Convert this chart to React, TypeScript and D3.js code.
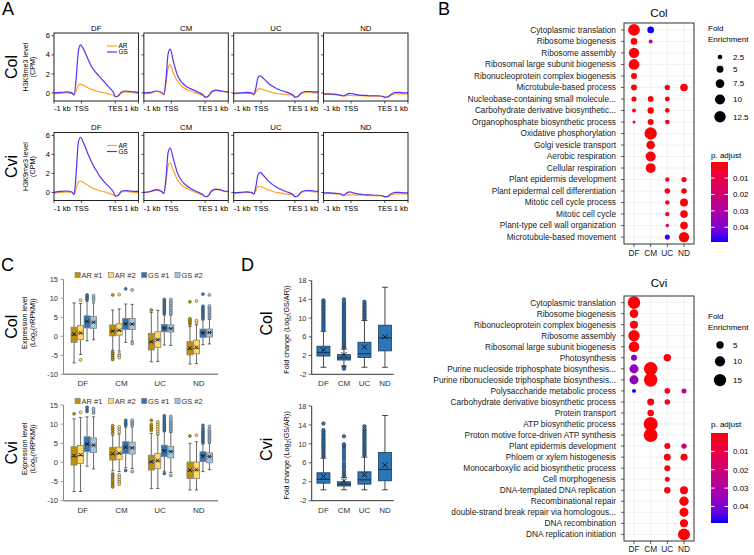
import React from 'react'
import * as d3 from 'd3'

const FONT = '"Liberation Sans", Arial, Helvetica, sans-serif'
const stages = ['DF', 'CM', 'UC', 'ND']

// ---------- A: H3K9me3 metaplots (x in bins: -1 kb = 0 ... +1 kb = 4)
const profileX = [0, 0.3, 0.6, 0.85, 0.95, 1.05, 1.15, 1.25, 1.4, 1.6, 1.8, 2.0, 2.2, 2.4, 2.6, 2.8, 2.92, 3.05, 3.2, 3.4, 3.6, 3.8, 4.0]
const profileTicks = [0, 1.3, 2.9, 4]
const profileTickLabels = ['-1 kb', 'TSS', 'TES', '1 kb']
const profileYTicks = [0, 2, 4, 6]

const colAR = [
  [-0.1, -0.05, 0.0, -0.05, -0.2, 0.2, 0.8, 0.92, 0.8, 0.55, 0.35, 0.2, 0.1, 0.0, -0.1, -0.25, -0.4, -0.3, 0.0, 0.1, 0.05, 0.0, -0.05],
  [-0.1, -0.05, 0.15, 0.0, -0.2, 1.0, 2.6, 2.95, 2.1, 1.2, 0.7, 0.4, 0.2, 0.05, -0.1, -0.3, -0.45, -0.35, 0.05, 0.25, 0.2, 0.1, 0.05],
  [-0.1, -0.05, -0.05, -0.05, -0.2, 0.1, 0.4, 0.45, 0.35, 0.2, 0.05, -0.05, -0.1, -0.15, -0.2, -0.3, -0.45, -0.35, -0.05, 0.05, 0.05, 0.0, 0.0],
  [-0.15, -0.15, -0.2, -0.3, -0.35, -0.3, -0.25, -0.25, -0.3, -0.3, -0.3, -0.35, -0.35, -0.35, -0.35, -0.4, -0.5, -0.45, -0.25, -0.1, -0.1, -0.1, -0.1],
]
const colGS = [
  [0.0, 0.05, 0.1, 0.0, -0.2, 1.5, 4.3, 5.05, 4.6, 3.6, 2.7, 2.1, 1.6, 1.1, 0.6, 0.1, -0.4, -0.3, 0.1, 0.2, 0.15, 0.1, 0.05],
  [0.0, 0.05, 0.2, 0.05, -0.15, 1.5, 4.1, 4.6, 3.3, 1.8, 1.1, 0.7, 0.45, 0.25, 0.05, -0.2, -0.45, -0.35, 0.1, 0.3, 0.25, 0.15, 0.1],
  [-0.05, 0.0, 0.05, 0.0, -0.15, 0.5, 1.6, 1.8, 1.55, 1.1, 0.75, 0.5, 0.3, 0.15, 0.0, -0.2, -0.45, -0.35, 0.0, 0.15, 0.15, 0.1, 0.1],
  [-0.1, -0.1, -0.15, -0.25, -0.3, -0.2, -0.1, -0.05, -0.1, -0.2, -0.25, -0.25, -0.3, -0.3, -0.3, -0.35, -0.45, -0.4, -0.15, 0.05, 0.05, 0.0, 0.0],
]
const cviAR = [
  [-0.1, 0.0, 0.05, 0.0, -0.2, 0.4, 1.1, 1.2, 1.05, 0.75, 0.5, 0.3, 0.15, 0.05, -0.1, -0.25, -0.4, -0.3, 0.05, 0.1, 0.05, 0.0, -0.05],
  [-0.05, 0.05, 0.25, 0.05, -0.15, 1.1, 2.8, 3.1, 2.3, 1.3, 0.75, 0.45, 0.25, 0.05, -0.1, -0.3, -0.45, -0.35, 0.1, 0.3, 0.25, 0.1, 0.05],
  [-0.1, -0.05, 0.0, -0.05, -0.2, 0.2, 0.6, 0.65, 0.5, 0.3, 0.15, 0.0, -0.05, -0.15, -0.2, -0.3, -0.45, -0.35, 0.0, 0.1, 0.1, 0.05, 0.05],
  [-0.1, -0.1, -0.15, -0.25, -0.35, -0.3, -0.25, -0.25, -0.25, -0.3, -0.3, -0.3, -0.35, -0.35, -0.35, -0.4, -0.5, -0.45, -0.25, -0.15, -0.15, -0.15, -0.15],
]
const cviGS = [
  [0.0, 0.1, 0.15, 0.05, -0.2, 2.0, 5.2, 5.8, 5.2, 4.1, 3.1, 2.3, 1.6, 1.05, 0.6, 0.1, -0.4, -0.3, 0.15, 0.2, 0.15, 0.1, 0.1],
  [0.0, 0.1, 0.3, 0.1, -0.1, 1.6, 4.2, 4.65, 3.5, 2.0, 1.2, 0.75, 0.45, 0.2, 0.0, -0.25, -0.45, -0.35, 0.15, 0.35, 0.3, 0.15, 0.1],
  [-0.05, 0.0, 0.05, 0.0, -0.15, 0.6, 1.85, 2.1, 1.8, 1.3, 0.9, 0.6, 0.35, 0.15, 0.0, -0.2, -0.45, -0.35, 0.05, 0.2, 0.2, 0.15, 0.1],
  [-0.05, -0.05, -0.1, -0.2, -0.3, -0.15, 0.0, 0.05, -0.05, -0.15, -0.2, -0.25, -0.25, -0.3, -0.3, -0.35, -0.45, -0.4, -0.15, 0.0, 0.0, -0.05, -0.05],
]

// ---------- B: GO enrichment
const colTerms = [
  'Cytoplasmic translation', 'Ribosome biogenesis', 'Ribosome assembly', 'Ribosomal large subunit biogenesis',
  'Ribonucleoprotein complex biogenesis', 'Microtubule-based process', 'Nucleobase-containing small molecule...',
  'Carbohydrate derivative biosynthetic...', 'Organophosphate biosynthetic process', 'Oxidative phosphorylation',
  'Golgi vesicle transport', 'Aerobic respiration', 'Cellular respiration', 'Plant epidermis development',
  'Plant epidermal cell differentiation', 'Mitotic cell cycle process', 'Mitotic cell cycle',
  'Plant-type cell wall organization', 'Microtubule-based movement',
]
// [term, stage, fold enrichment, p.adjust]
const colDots: [string, string, number, number][] = [
  ['Cytoplasmic translation', 'DF', 13.2, 0.0005], ['Cytoplasmic translation', 'CM', 4.6, 0.049],
  ['Ribosome biogenesis', 'DF', 4.6, 0.001], ['Ribosome biogenesis', 'CM', 2.0, 0.021],
  ['Ribosome assembly', 'DF', 10.5, 0.001],
  ['Ribosomal large subunit biogenesis', 'DF', 11.0, 0.001],
  ['Ribonucleoprotein complex biogenesis', 'DF', 3.9, 0.001],
  ['Microtubule-based process', 'DF', 3.9, 0.001], ['Microtubule-based process', 'UC', 3.2, 0.002], ['Microtubule-based process', 'ND', 5.9, 0.001],
  ['Nucleobase-containing small molecule...', 'DF', 3.0, 0.002], ['Nucleobase-containing small molecule...', 'CM', 3.6, 0.001], ['Nucleobase-containing small molecule...', 'UC', 2.8, 0.002],
  ['Carbohydrate derivative biosynthetic...', 'DF', 2.0, 0.004], ['Carbohydrate derivative biosynthetic...', 'CM', 4.3, 0.001], ['Carbohydrate derivative biosynthetic...', 'UC', 2.6, 0.002],
  ['Organophosphate biosynthetic process', 'DF', 1.4, 0.011], ['Organophosphate biosynthetic process', 'CM', 3.9, 0.001], ['Organophosphate biosynthetic process', 'UC', 2.6, 0.002],
  ['Oxidative phosphorylation', 'CM', 14.5, 0.0005],
  ['Golgi vesicle transport', 'CM', 7.4, 0.001],
  ['Aerobic respiration', 'CM', 9.8, 0.001],
  ['Cellular respiration', 'CM', 9.4, 0.001],
  ['Plant epidermis development', 'UC', 2.3, 0.003], ['Plant epidermis development', 'ND', 3.0, 0.002],
  ['Plant epidermal cell differentiation', 'UC', 3.4, 0.002], ['Plant epidermal cell differentiation', 'ND', 3.4, 0.002],
  ['Mitotic cell cycle process', 'UC', 2.5, 0.003], ['Mitotic cell cycle process', 'ND', 6.4, 0.001],
  ['Mitotic cell cycle', 'UC', 2.3, 0.004], ['Mitotic cell cycle', 'ND', 5.9, 0.001],
  ['Plant-type cell wall organization', 'UC', 1.7, 0.016], ['Plant-type cell wall organization', 'ND', 5.9, 0.001],
  ['Microtubule-based movement', 'UC', 3.0, 0.047], ['Microtubule-based movement', 'ND', 10.5, 0.0005],
]
const colSizeBreaks = [2.5, 5, 7.5, 10, 12.5]

const cviTerms = [
  'Cytoplasmic translation', 'Ribosome biogenesis', 'Ribonucleoprotein complex biogenesis', 'Ribosome assembly',
  'Ribosomal large subunit biogenesis', 'Photosynthesis', 'Purine nucleoside triphosphate biosynthesis...',
  'Purine ribonucleoside triphosphate biosynthesis...', 'Polysaccharide metabolic process',
  'Carbohydrate derivative biosynthetic process', 'Protein transport', 'ATP biosynthetic process',
  'Proton motive force-driven ATP synthesis', 'Plant epidermis development', 'Phloem or xylem histogenesis',
  'Monocarboxylic acid biosynthetic process', 'Cell morphogenesis', 'DNA-templated DNA replication',
  'Recombinational repair', 'double-strand break repair via homologous...', 'DNA recombination',
  'DNA replication initiation',
]
const cviDots: [string, string, number, number][] = [
  ['Cytoplasmic translation', 'DF', 15.5, 0.0003],
  ['Ribosome biogenesis', 'DF', 7.0, 0.001],
  ['Ribonucleoprotein complex biogenesis', 'DF', 6.0, 0.001],
  ['Ribosome assembly', 'DF', 12.6, 0.0005],
  ['Ribosomal large subunit biogenesis', 'DF', 11.0, 0.0005],
  ['Photosynthesis', 'DF', 3.1, 0.035], ['Photosynthesis', 'UC', 5.0, 0.001],
  ['Purine nucleoside triphosphate biosynthesis...', 'DF', 7.7, 0.036], ['Purine nucleoside triphosphate biosynthesis...', 'CM', 18.0, 0.0005],
  ['Purine ribonucleoside triphosphate biosynthesis...', 'DF', 7.7, 0.036], ['Purine ribonucleoside triphosphate biosynthesis...', 'CM', 18.0, 0.0005],
  ['Polysaccharide metabolic process', 'DF', 1.0, 0.049], ['Polysaccharide metabolic process', 'UC', 2.6, 0.003], ['Polysaccharide metabolic process', 'ND', 2.0, 0.028],
  ['Carbohydrate derivative biosynthetic process', 'CM', 4.4, 0.001], ['Carbohydrate derivative biosynthetic process', 'UC', 2.6, 0.003],
  ['Protein transport', 'CM', 3.9, 0.002],
  ['ATP biosynthetic process', 'CM', 19.0, 0.0003],
  ['Proton motive force-driven ATP synthesis', 'CM', 19.0, 0.0003],
  ['Plant epidermis development', 'UC', 3.1, 0.002], ['Plant epidermis development', 'ND', 2.4, 0.019],
  ['Phloem or xylem histogenesis', 'UC', 4.4, 0.001], ['Phloem or xylem histogenesis', 'ND', 4.4, 0.001],
  ['Monocarboxylic acid biosynthetic process', 'UC', 3.1, 0.002],
  ['Cell morphogenesis', 'UC', 2.0, 0.004],
  ['DNA-templated DNA replication', 'UC', 3.6, 0.002], ['DNA-templated DNA replication', 'ND', 6.0, 0.001],
  ['Recombinational repair', 'ND', 8.4, 0.0005],
  ['double-strand break repair via homologous...', 'ND', 7.7, 0.0005],
  ['DNA recombination', 'ND', 6.0, 0.001],
  ['DNA replication initiation', 'ND', 14.0, 0.0003],
]
const cviSizeBreaks = [5, 10, 15]
const pBreaks = [0.01, 0.02, 0.03, 0.04]

// ---------- C: expression boxplots, log2(nRPKM)
type Box = { min: number; q1: number; med: number; q3: number; max: number; mean: number; out: number[] }
const exprSeries = ['AR #1', 'AR #2', 'GS #1', 'GS #2']
const exprColors = ['#BF9000', '#FFD966', '#2E75B6', '#9DC3E6']
const exprTicks = [-10, -5, 0, 5, 10, 15]

const colExprAR1: Box[] = [
  { min: -7, q1: -1.6, med: 0.3, q3: 2.4, max: 8.8, mean: 0.6, out: [] },
  { min: -3.7, q1: 0.1, med: 1.3, q3: 3.0, max: 6.9, mean: 1.4, out: [10.9, -4.2, -4.7, -5.2, -5.7, -6.1] },
  { min: -6.7, q1: -3.6, med: -1.5, q3: 0.8, max: 6.3, mean: -1.4, out: [6.9] },
  { min: -7.3, q1: -4.9, med: -3.4, q3: -1.4, max: 2.6, mean: -3.1, out: [3.2, 3.7, 4.2, 4.6, 9.1] },
]
const colExprAR2: Box[] = [
  { min: -4.8, q1: -0.9, med: 0.8, q3: 2.8, max: 8.6, mean: 0.9, out: [9.5, -6.2] },
  { min: -3.9, q1: 0.3, med: 1.5, q3: 3.3, max: 7.2, mean: 1.6, out: [11.0, -4.6, -5.1, -5.6] },
  { min: -6.6, q1: -2.9, med: -0.9, q3: 1.2, max: 6.8, mean: -0.9, out: [] },
  { min: -7.2, q1: -4.6, med: -3.1, q3: -1.0, max: 3.0, mean: -2.9, out: [3.6, 4.1, 9.3] },
]
const colExprGS1: Box[] = [
  { min: -1.2, q1: 2.2, med: 3.9, q3: 5.4, max: 9.2, mean: 3.9, out: [9.7, 10.1, 10.5, 10.9] },
  { min: -1.6, q1: 1.8, med: 3.3, q3: 4.7, max: 8.5, mean: 3.3, out: [12.5] },
  { min: -2.3, q1: 1.2, med: 2.2, q3: 3.1, max: 5.6, mean: 2.1, out: [6.0, 6.4, 6.8, 7.2, 7.6, 8.0, 8.4, 8.8, 9.2, 9.7] },
  { min: -2.2, q1: -0.3, med: 0.9, q3: 1.9, max: 4.3, mean: 0.9, out: [4.7, 5.1, 5.5, 5.9, 6.3, 6.7, 7.1, 7.5, 7.9, 11.1] },
]
const colExprGS2: Box[] = [
  { min: -0.9, q1: 2.1, med: 3.7, q3: 5.2, max: 8.8, mean: 3.7, out: [9.5, 10.1, 10.7] },
  { min: -1.3, q1: 1.8, med: 3.2, q3: 4.7, max: 8.4, mean: 3.2, out: [12.2, -1.9] },
  { min: -2.4, q1: 1.1, med: 2.1, q3: 3.0, max: 5.6, mean: 2.0, out: [6.0, 6.4, 6.9, 7.3, 7.8, 8.2, 8.7, 9.2, 9.7] },
  { min: -2.0, q1: -0.2, med: 1.0, q3: 1.9, max: 4.4, mean: 1.0, out: [4.8, 5.2, 5.6, 6.0, 6.4, 6.8, 7.2, 7.6, 8.0, 10.9] },
]
const cviExprAR1: Box[] = [
  { min: -7.6, q1: -0.7, med: 1.5, q3: 4.1, max: 11.4, mean: 1.8, out: [12.7] },
  { min: -2.2, q1: 0.6, med: 2.1, q3: 3.9, max: 7.1, mean: 2.3, out: [7.7, 8.4, 9.0, 9.6, -3.0, -3.5, -4.1, -4.7, -5.3, -5.9, -6.4] },
  { min: -6.8, q1: -2.0, med: 0.1, q3: 1.9, max: 7.6, mean: 0.2, out: [8.4, 8.9, 9.4, 9.9, 11.0] },
  { min: -7.2, q1: -4.2, med: -2.2, q3: 0.1, max: 5.0, mean: -2.0, out: [6.9] },
]
const cviExprAR2: Box[] = [
  { min: -7.6, q1: -0.3, med: 1.8, q3: 4.4, max: 11.7, mean: 2.0, out: [13.1] },
  { min: -2.4, q1: 0.8, med: 2.3, q3: 4.0, max: 7.4, mean: 2.4, out: [8.0, 8.7, 9.3, -3.3, -3.9, -4.5, -5.1, -5.7] },
  { min: -6.8, q1: -1.6, med: 0.4, q3: 2.3, max: 7.2, mean: 0.5, out: [7.6, 8.2, 8.8, 9.4, 10.0, 10.6] },
  { min: -7.2, q1: -4.2, med: -2.0, q3: 0.1, max: 5.4, mean: -1.9, out: [7.1] },
]
const cviExprGS1: Box[] = [
  { min: -1.0, q1: 2.8, med: 4.8, q3: 6.7, max: 11.9, mean: 4.8, out: [13.3, 13.8, 14.4] },
  { min: -1.4, q1: 2.3, med: 4.0, q3: 5.4, max: 9.2, mean: 4.0, out: [9.7, 10.1, 10.5, 11.0, -2.1] },
  { min: -2.3, q1: 1.5, med: 3.2, q3: 4.5, max: 8.0, mean: 3.0, out: [8.4, 8.8, 9.2, 9.6, 10.0, 10.4, 10.8, 11.2, 11.7, 12.2, -2.9] },
  { min: -2.4, q1: 0.2, med: 1.8, q3: 2.8, max: 4.8, mean: 1.7, out: [5.2, 5.6, 6.0, 6.4, 6.8, 7.2, 7.6, 8.0, 8.4, 9.0, 9.7] },
]
const cviExprGS2: Box[] = [
  { min: -1.7, q1: 2.6, med: 4.5, q3: 6.4, max: 11.9, mean: 4.5, out: [12.9, 13.5, 14.1] },
  { min: -1.6, q1: 2.2, med: 3.8, q3: 5.3, max: 9.3, mean: 3.8, out: [9.8, 10.2, 10.6, 11.0, -2.4] },
  { min: -2.6, q1: 1.2, med: 2.9, q3: 4.2, max: 7.8, mean: 2.8, out: [8.2, 8.6, 9.0, 9.4, 9.8, 10.2, 10.6, 11.0, 11.5, 12.0, -3.4] },
  { min: -1.9, q1: -0.1, med: 1.6, q3: 2.5, max: 5.0, mean: 1.5, out: [5.4, 5.8, 6.2, 6.6, 7.0, 7.4, 7.8, 8.2, 8.6, 9.4] },
]

// ---------- D: fold change log2(GS/AR)
const foldTicks = [-2, 2, 6, 10, 14, 18]
const colFold: Box[] = [
  { min: -0.5, q1: 1.9, med: 2.6, q3: 4.0, max: 7.2, mean: 3.2,
    out: [7.5, 7.9, 8.3, 8.7, 9.1, 9.5, 9.9, 10.3, 10.7, 11.1, 11.5, 11.9, 12.3, 12.7, 13.1, 13.5, 13.8] },
  { min: -0.2, q1: 1.05, med: 1.5, q3: 2.2, max: 3.4, mean: 2.2,
    out: [-0.5, -0.8, 3.7, 4.0, 4.3, 4.7, 5.0, 5.4, 5.8, 6.2, 6.6, 7.0, 7.4, 7.8, 8.2, 8.6, 9.0, 9.4, 9.8, 10.2, 10.6, 11.0, 11.4, 11.8, 12.2, 12.6, 13.0, 13.4, 14.0] },
  { min: -0.5, q1: 1.6, med: 2.4, q3: 4.85, max: 9.5, mean: 3.8,
    out: [9.8, 10.2, 10.6, 11.0, 11.4, 11.8, 12.2, 12.6, 13.0, 13.5] },
  { min: -0.5, q1: 3.0, med: 5.8, q3: 8.5, max: 16.6, mean: 6.0, out: [] },
]
const cviFold: Box[] = [
  { min: 0.3, q1: 1.7, med: 2.5, q3: 3.9, max: 7.0, mean: 3.1,
    out: [7.3, 7.7, 8.1, 8.5, 8.9, 9.3, 9.7, 10.1, 10.5, 10.9, 11.3, 11.7, 12.1, 12.5, 12.9, 14.3] },
  { min: 0.3, q1: 1.1, med: 1.5, q3: 2.0, max: 2.9, mean: 2.1,
    out: [3.3, 3.7, 4.2, 4.8, 5.3, 5.9, 6.6, 7.2, 7.8, 8.4, 9.0, 9.6, 9.9, 11.6] },
  { min: 0.3, q1: 1.5, med: 2.4, q3: 4.1, max: 7.2, mean: 3.5,
    out: [7.6, 8.0, 8.4, 8.8, 9.2, 9.6, 10.0, 10.4, 10.8, 11.2, 11.6, 12.0, 12.4, 12.8, 13.2, 13.7] },
  { min: 0.3, q1: 2.2, med: 4.6, q3: 8.2, max: 16.0, mean: 5.5, out: [] },
]

const AR_COLOR = '#FFA126'
const GS_COLOR = '#5233F5'

function ProfileRow({ top, bottom, genotype, ar, gs }: { top: number; bottom: number; genotype: string; ar: number[][]; gs: number[][] }) {
  const band = d3.scaleBand().domain(stages).range([54, 408]).paddingInner(0.06)
  const y = d3.scaleLinear().domain([-0.85, 6.3]).range([bottom, top])
  const px = d3.scaleLinear().domain([0, 4]).range([0, band.bandwidth()])
  const line = d3.line<number>().x((_, i) => px(profileX[i])).y(d => y(d)).curve(d3.curveMonotoneX)
  const mid = (top + bottom) / 2
  return (
    <g>
      <text transform={`translate(16.5,${mid}) rotate(-90)`} textAnchor="middle" fontSize={16}>{genotype}</text>
      <g transform={`translate(28,${mid}) rotate(-90)`} textAnchor="middle" fontSize={7.2}>
        <text>H3K9me3 level</text>
        <text y={7}>(CPM)</text>
      </g>
      {stages.map((s, si) => {
        const x0 = band(s)!
        const w = band.bandwidth()
        return (
          <g key={s} transform={`translate(${x0},0)`}>
            <text x={w / 2} y={top - 2.5} textAnchor="middle" fontSize={7.8}>{s}</text>
            <path d={line(ar[si]) || ''} fill="none" stroke={AR_COLOR} strokeWidth={1.2} />
            <path d={line(gs[si]) || ''} fill="none" stroke={GS_COLOR} strokeWidth={1.2} />
            <rect x={0} y={top} width={w} height={bottom - top} fill="none" stroke="#222" strokeWidth={1} />
            {profileYTicks.map(t => (
              <line key={t} x1={-2.5} x2={0} y1={y(t)} y2={y(t)} stroke="#222" strokeWidth={0.8} />
            ))}
            {si === 0 && profileYTicks.map(t => (
              <text key={t} x={-4} y={y(t)} dy="0.35em" textAnchor="end" fontSize={7.5}>{t}</text>
            ))}
            {profileTicks.map((t, i) => (
              <g key={i}>
                <line x1={px(t)} x2={px(t)} y1={bottom} y2={bottom + 2.5} stroke="#222" strokeWidth={0.8} />
                <text x={px(t)} y={bottom + 10} fontSize={7.5}
                  textAnchor={i === 0 ? 'start' : i === profileTicks.length - 1 ? 'end' : 'middle'}>{profileTickLabels[i]}</text>
              </g>
            ))}
            {si === 0 && (
              <g fontSize={6.5}>
                <line x1={53} x2={63} y1={top + 13} y2={top + 13} stroke={AR_COLOR} strokeWidth={1.2} />
                <text x={64.5} y={top + 13} dy="0.35em">AR</text>
                <line x1={53} x2={63} y1={top + 19} y2={top + 19} stroke={GS_COLOR} strokeWidth={1.2} />
                <text x={64.5} y={top + 19} dy="0.35em">GS</text>
              </g>
            )}
          </g>
        )
      })}
    </g>
  )
}

type DotProps = {
  id: string; title: string; titleY: number; top: number; bottom: number; terms: string[]
  dots: [string, string, number, number][]; area: d3.ScaleLinear<number, number>; sizeBreaks: number[]
  pDomain: [number, number]; foldY: number; keyY: number; keyGap: number; cbTitleY: number; cbTop: number; cbBottom: number
  xLabelDy: number
}

function DotPlot(p: DotProps) {
  const left = 624, right = 694
  const x = d3.scalePoint().domain(stages).range([left, right]).padding(0.6)
  const y = d3.scalePoint().domain(p.terms).range([p.top, p.bottom]).padding(0.6)
  const r = (v: number) => Math.sqrt(Math.max(1, p.area(v)))
  const color = d3.scaleLinear<string>().domain(p.pDomain).range(['#ff0000', '#0000ff']).interpolate(d3.interpolateLab)
  const cb = d3.scaleLinear().domain(p.pDomain).range([p.cbTop, p.cbBottom])
  const keys: { b: number; y: number }[] = []
  let ky = p.keyY
  p.sizeBreaks.forEach((b, i) => {
    if (i > 0) ky += r(p.sizeBreaks[i - 1]) + r(b) + p.keyGap
    keys.push({ b, y: ky })
  })
  const stops = d3.range(0, 1.0001, 0.1)
  const cbX = 711, cbW = 17
  return (
    <g>
      <defs>
        <linearGradient id={p.id} x1="0" x2="0" y1="0" y2="1">
          {stops.map(t => (
            <stop key={t} offset={t} stopColor={color(p.pDomain[0] + t * (p.pDomain[1] - p.pDomain[0]))} />
          ))}
        </linearGradient>
      </defs>
      <text x={(left + right) / 2} y={p.titleY} textAnchor="middle" fontSize={11.5}>{p.title}</text>
      {stages.map(s => (
        <line key={s} x1={x(s)} x2={x(s)} y1={p.top} y2={p.bottom} stroke="#ebebeb" strokeWidth={0.7} />
      ))}
      {p.terms.map(t => (
        <line key={t} x1={left} x2={right} y1={y(t)} y2={y(t)} stroke="#ebebeb" strokeWidth={0.7} />
      ))}
      {p.dots.map((d, i) => (
        <circle key={i} cx={x(d[1])} cy={y(d[0])} r={r(d[2])} fill={color(d[3])} />
      ))}
      <rect x={left} y={p.top} width={right - left} height={p.bottom - p.top} fill="none" stroke="#333" strokeWidth={1} />
      {p.terms.map(t => (
        <g key={t}>
          <line x1={left - 3} x2={left} y1={y(t)} y2={y(t)} stroke="#333" strokeWidth={0.8} />
          <text x={left - 8} y={y(t)} dy="0.35em" textAnchor="end" fontSize={8.3} fill="#1a1a1a">{t}</text>
        </g>
      ))}
      {stages.map(s => (
        <g key={s}>
          <line x1={x(s)} x2={x(s)} y1={p.bottom} y2={p.bottom + 3} stroke="#333" strokeWidth={0.8} />
          <text x={x(s)} y={p.bottom + p.xLabelDy} textAnchor="middle" fontSize={8.3} fill="#1a1a1a">{s}</text>
        </g>
      ))}
      {/* size legend */}
      <text x={708} y={p.foldY} fontSize={8}>Fold</text>
      <text x={708} y={p.foldY + 10.5} fontSize={8}>Enrichment</text>
      {keys.map(k => (
        <g key={k.b}>
          <circle cx={720} cy={k.y} r={r(k.b)} fill="#000" />
          <text x={733} y={k.y} dy="0.35em" fontSize={8}>{k.b}</text>
        </g>
      ))}
      {/* colour bar */}
      <text x={711} y={p.cbTitleY} fontSize={8}>p. adjust</text>
      <rect x={cbX} y={p.cbTop} width={cbW} height={p.cbBottom - p.cbTop} fill={`url(#${p.id})`} />
      {pBreaks.map(b => (
        <g key={b}>
          <line x1={cbX} x2={cbX + 3.5} y1={cb(b)} y2={cb(b)} stroke="#fff" strokeWidth={1} />
          <line x1={cbX + cbW - 3.5} x2={cbX + cbW} y1={cb(b)} y2={cb(b)} stroke="#fff" strokeWidth={1} />
          <text x={733} y={cb(b)} dy="0.35em" fontSize={8}>{b}</text>
        </g>
      ))}
    </g>
  )
}

function Cross({ cx, cy, s, stroke }: { cx: number; cy: number; s: number; stroke: string }) {
  return <path d={`M${cx - s},${cy - s}L${cx + s},${cy + s}M${cx - s},${cy + s}L${cx + s},${cy - s}`} stroke={stroke} strokeWidth={0.9} />
}

function BoxMark({ b, cx, w, y, fill, edge, whisker, outR, cap, crossS }: {
  b: Box; cx: number; w: number; y: d3.ScaleLinear<number, number>; fill: string; edge: string; whisker: string
  outR: number; cap: number; crossS: number
}) {
  return (
    <g>
      <line x1={cx} x2={cx} y1={y(b.max)} y2={y(b.q3)} stroke={whisker} strokeWidth={0.8} />
      <line x1={cx} x2={cx} y1={y(b.q1)} y2={y(b.min)} stroke={whisker} strokeWidth={0.8} />
      <line x1={cx - cap} x2={cx + cap} y1={y(b.max)} y2={y(b.max)} stroke={whisker} strokeWidth={0.8} />
      <line x1={cx - cap} x2={cx + cap} y1={y(b.min)} y2={y(b.min)} stroke={whisker} strokeWidth={0.8} />
      <rect x={cx - w / 2} y={y(b.q3)} width={w} height={y(b.q1) - y(b.q3)} fill={fill} stroke={edge} strokeWidth={0.8} />
      <line x1={cx - w / 2} x2={cx + w / 2} y1={y(b.med)} y2={y(b.med)} stroke={whisker} strokeWidth={0.8} />
      <Cross cx={cx} cy={y(b.mean)} s={crossS} stroke="#111" />
      {b.out.map((o, k) => (
        <circle key={k} cx={cx} cy={y(o)} r={outR} fill={fill} stroke={whisker} strokeWidth={0.5} />
      ))}
    </g>
  )
}

function ExprPanel({ top, bottom, legendY, genotype, series }: { top: number; bottom: number; legendY: number; genotype: string; series: Box[][] }) {
  const y = d3.scaleLinear().domain([-10, 15]).range([bottom, top])
  const x = d3.scaleBand().domain(stages).range([63.5, 218])
  const bw = 6.5
  const mid = (top + bottom) / 2
  return (
    <g>
      <text transform={`translate(17,${mid}) rotate(-90)`} textAnchor="middle" fontSize={16}>{genotype}</text>
      <g transform={`translate(27,${mid - 4}) rotate(-90)`} textAnchor="middle" fontSize={7.2}>
        <text>Expression level</text>
        <text y={8}>(Log<tspan fontSize={5} dy={1.5}>2</tspan><tspan dy={-1.5}>(nRPKM))</tspan></text>
      </g>
      {exprSeries.map((s, i) => (
        <g key={s} transform={`translate(${75 + i * 33.3},${legendY})`}>
          <rect x={0} y={-2.6} width={5.2} height={5.2} fill={exprColors[i]} stroke="#7f7f7f" strokeWidth={0.6} />
          <text x={6.5} dy="0.35em" fontSize={7.5} fill="#333">{s}</text>
        </g>
      ))}
      <line x1={63.5} x2={63.5} y1={top} y2={bottom} stroke="#8a8a8a" strokeWidth={1} />
      {exprTicks.map(t => (
        <g key={t}>
          <line x1={60.5} x2={63.5} y1={y(t)} y2={y(t)} stroke="#8a8a8a" strokeWidth={0.8} />
          <text x={58} y={y(t)} dy="0.35em" textAnchor="end" fontSize={7.5} fill="#333">{t}</text>
        </g>
      ))}
      {series.map((ser, si) => ser.map((b, ci) => {
        const cx = x(stages[ci])! + x.bandwidth() / 2 + (si - 1.5) * bw + 1
        return <BoxMark key={si + '-' + ci} b={b} cx={cx} w={bw - 0.5} y={y} fill={exprColors[si]}
          edge="#808080" whisker="#404040" outR={1.5} cap={1.6} crossS={1.8} />
      }))}
      <line x1={63.5} x2={218} y1={bottom} y2={bottom} stroke="#8a8a8a" strokeWidth={1.5} />
      {stages.map(s => (
        <text key={s} x={x(s)! + x.bandwidth() / 2} y={bottom + 12} textAnchor="middle" fontSize={8} fill="#333">{s}</text>
      ))}
    </g>
  )
}

function FoldPanel({ top, bottom, genotype, boxes }: { top: number; bottom: number; genotype: string; boxes: Box[] }) {
  const y = d3.scaleLinear().domain([-2, 18]).range([bottom, top])
  const x = d3.scaleBand().domain(stages).range([311.7, 393.7])
  const mid = (top + bottom) / 2
  return (
    <g>
      <text transform={`translate(272,${mid - 4}) rotate(-90)`} textAnchor="middle" fontSize={16}>{genotype}</text>
      <text transform={`translate(289,${mid + 2}) rotate(-90)`} textAnchor="middle" fontSize={7.2}>
        Fold change (Log<tspan fontSize={5} dy={1.5}>2</tspan><tspan dy={-1.5}>(GS/AR))</tspan>
      </text>
      <line x1={311.7} x2={311.7} y1={top} y2={bottom} stroke="#333" strokeWidth={1} />
      {foldTicks.map(t => (
        <g key={t}>
          <line x1={308.7} x2={311.7} y1={y(t)} y2={y(t)} stroke="#333" strokeWidth={0.8} />
          <text x={306.5} y={y(t)} dy="0.35em" textAnchor="end" fontSize={7.5} fill="#333">{t}</text>
        </g>
      ))}
      {boxes.map((b, ci) => (
        <BoxMark key={ci} b={b} cx={x(stages[ci])! + x.bandwidth() / 2 + 1.5} w={13} y={y} fill="#2E75B6"
          edge="#1c3a5e" whisker="#1a1a1a" outR={1.8} cap={3} crossS={2.6} />
      ))}
      <line x1={311.7} x2={393.7} y1={bottom} y2={bottom} stroke="#333" strokeWidth={1} />
      {stages.map(s => (
        <text key={s} x={x(s)! + x.bandwidth() / 2 + 1.5} y={bottom + 12} textAnchor="middle" fontSize={8} fill="#333">{s}</text>
      ))}
    </g>
  )
}

export default function App() {
  const colArea = d3.scaleLinear().domain([2.5, 12.5]).range([5.3, 32.4])
  const cviArea = d3.scaleLinear().domain([5, 15]).range([13.7, 38.4])
  return (
    <svg width={754} height={555} viewBox="0 0 754 555"
      style={{ position: 'absolute', left: 0, top: 0, background: '#fff', fontFamily: FONT }}>
      <rect width={754} height={555} fill="#fff" />
      <g fontSize={18}>
        <text x={2} y={15}>A</text>
        <text x={438} y={15}>B</text>
        <text x={1} y={271}>C</text>
        <text x={241} y={271}>D</text>
      </g>
      <ProfileRow top={33} bottom={101} genotype="Col" ar={colAR} gs={colGS} />
      <ProfileRow top={132.5} bottom={200.5} genotype="Cvi" ar={cviAR} gs={cviGS} />

      <DotPlot id="padjCol" title="Col" titleY={17} top={23} bottom={244} terms={colTerms} dots={colDots}
        area={colArea} sizeBreaks={colSizeBreaks} pDomain={[0.0002, 0.049]} foldY={31} keyY={57} keyGap={6.5}
        cbTitleY={158} cbTop={162} cbBottom={242} xLabelDy={12} />
      <DotPlot id="padjCvi" title="Cvi" titleY={287} top={296} bottom={541} terms={cviTerms} dots={cviDots}
        area={cviArea} sizeBreaks={cviSizeBreaks} pDomain={[0, 0.049]} foldY={319} keyY={345} keyGap={7.5}
        cbTitleY={427} cbTop={433} cbBottom={523} xLabelDy={10.5} />

      <ExprPanel top={279.3} bottom={374.3} legendY={275} genotype="Col" series={[colExprAR1, colExprAR2, colExprGS1, colExprGS2]} />
      <ExprPanel top={405} bottom={500.7} legendY={401} genotype="Cvi" series={[cviExprAR1, cviExprAR2, cviExprGS1, cviExprGS2]} />

      <FoldPanel top={280.7} bottom={374.3} genotype="Col" boxes={colFold} />
      <FoldPanel top={406} bottom={500.7} genotype="Cvi" boxes={cviFold} />
    </svg>
  )
}
